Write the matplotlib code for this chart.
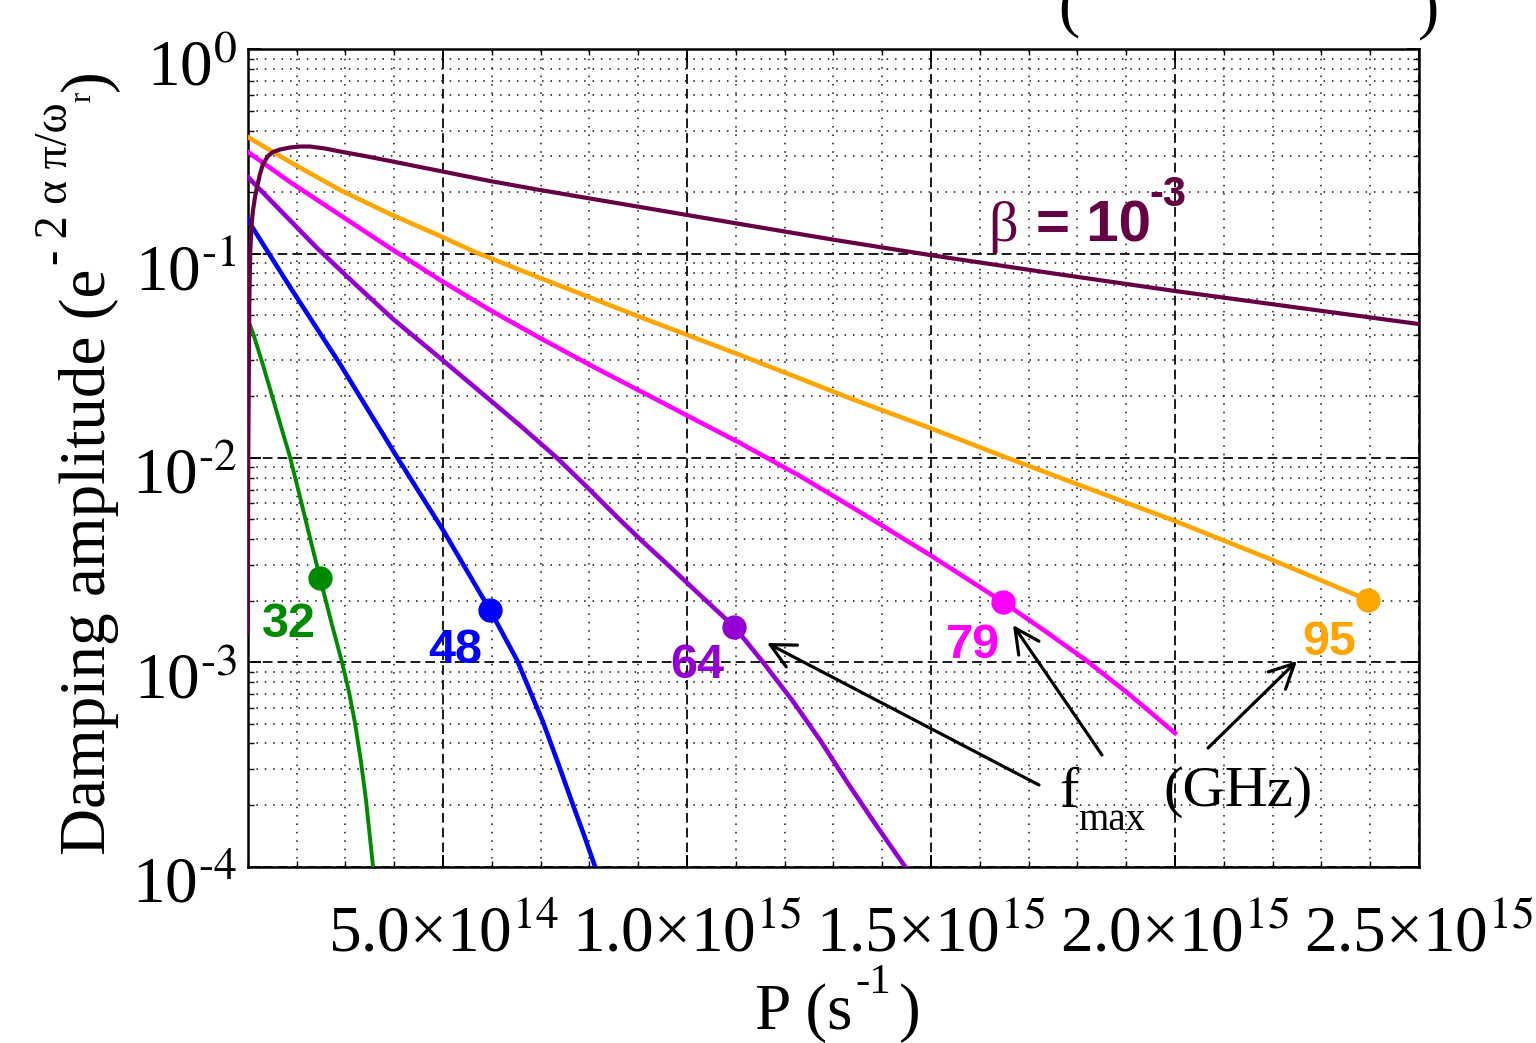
import matplotlib
matplotlib.use("Agg")
import matplotlib.pyplot as plt
import matplotlib.transforms as mtransforms
from matplotlib.patches import FancyArrowPatch
from matplotlib.ticker import FixedLocator, FixedFormatter, MultipleLocator, LogLocator, NullFormatter

# ---------------- data ----------------
P_beta = [1.00e14, 1.01e14, 1.031e14, 1.051e14, 1.076e14, 1.107e14, 1.148e14, 1.189e14, 1.25e14,
          1.311e14, 1.414e14, 1.516e14, 1.66e14, 1.865e14, 2.07e14, 2.275e14, 2.582e14, 2.889e14,
          3.402e14, 3.914e14, 4.939e14, 5.963e14, 6.988e14, 9.037e14, 1.1086e15, 1.3033e15,
          1.498e15, 1.7439e15, 2.0e15, 2.2562e15, 2.5e15]
A_beta = [1.39e-3, 1.093e-2, 5.93e-2, 0.1041, 0.138, 0.1634, 0.1892, 0.2118, 0.2452,
          0.2745, 0.3003, 0.3143, 0.3232, 0.3306, 0.3343, 0.3343, 0.3269, 0.3161,
          0.3003, 0.2840, 0.2537, 0.2266, 0.2048, 0.1691, 0.1396, 0.1166,
          0.0984, 0.0804, 0.0656, 0.0542, 0.0452]

P_95 = [1.0e14, 1.865e14, 2.889e14, 3.914e14, 4.939e14, 5.656e14, 6.988e14, 9.037e14, 1.1086e15,
        1.3381e15, 1.498e15, 1.6517e15, 1.8258e15, 2.0e15, 2.1947e15, 2.3955e15]
A_95 = [0.3722, 0.2808, 0.2048, 0.1562, 0.1220, 0.1018, 0.0760, 0.04894, 0.03190,
        0.01942, 0.01401, 0.0101, 7.043e-3, 4.911e-3, 3.2e-3, 2.015e-3]

P_79 = [1.0e14, 1.865e14, 2.889e14, 3.914e14, 4.939e14, 5.963e14, 6.988e14, 8.012e14, 9.037e14,
        1.0062e15, 1.1086e15, 1.2316e15, 1.3545e15, 1.498e15, 1.6476e15, 1.7336e15, 1.8197e15,
        1.9078e15, 2.0e15]
A_79 = [0.3143, 0.2241, 0.1545, 0.1065, 0.07426, 0.05295, 0.03863, 0.02849, 0.02126,
        0.01585, 0.01183, 8.153e-3, 5.434e-3, 3.347e-3, 1.971e-3, 1.421e-3, 1.014e-3,
        6.91e-4, 4.50e-4]

P_64 = [1.0e14, 1.66e14, 2.418e14, 3.197e14, 3.975e14, 4.939e14, 5.963e14, 6.639e14, 7.316e14,
        7.951e14, 8.566e14, 9.078e14, 9.59e14, 1.0267e15, 1.0973e15, 1.1537e15, 1.2152e15,
        1.2726e15, 1.3279e15, 1.3873e15, 1.4467e15]
A_64 = [0.2371, 0.1634, 0.1065, 0.07101, 0.04786, 0.03083, 0.01920, 0.01401, 0.0101,
        7.2e-3, 5.136e-3, 3.918e-3, 3.025e-3, 2.133e-3, 1.487e-3, 1.014e-3, 6.53e-4,
        4.16e-4, 2.592e-4, 1.596e-4, 1.0e-4]

P_48 = [1.0e14, 1.865e14, 2.889e14, 4.057e14, 5.0e14, 5.963e14, 6.516e14, 7.049e14, 7.357e14,
        7.664e14, 7.889e14, 8.115e14]
A_48 = [0.1460, 0.06862, 0.02881, 0.0101, 4.437e-3, 1.80e-3, 1.025e-3, 5.097e-4, 3.21e-4,
        2.0e-4, 1.426e-4, 1.0e-4]

P_32 = [1.0e14, 1.107e14, 1.311e14, 1.516e14, 1.701e14, 1.865e14, 2.07e14, 2.275e14, 2.48e14,
        2.705e14, 2.93e14, 3.074e14, 3.197e14, 3.32e14, 3.422e14, 3.566e14]
A_32 = [0.04732, 0.04086, 0.02849, 0.01942, 0.01369, 0.0101, 6.435e-3, 4.055e-3, 2.583e-3,
        1.591e-3, 1.0e-3, 7.145e-4, 5.04e-4, 3.247e-4, 2.116e-4, 1.0e-4]

fmax_labels = ["32", "48", "64", "79", "95"]
fmax_P = [2.48e14, 5.963e14, 1.0973e15, 1.6476e15, 2.3955e15]
fmax_A = [2.583e-3, 1.80e-3, 1.487e-3, 1.971e-3, 2.015e-3]

x_ticks = [5e14, 1e15, 1.5e15, 2e15, 2.5e15]
x_tick_labels = [r"5.0\u00d7$\mathregular{10}^{14}$", r"1.0\u00d7$\mathregular{10}^{15}$",
                 r"1.5\u00d7$\mathregular{10}^{15}$", r"2.0\u00d7$\mathregular{10}^{15}$",
                 r"2.5\u00d7$\mathregular{10}^{15}$"]
x_tick_labels = [s.replace(r"\u00d7", "\u00d7") for s in x_tick_labels]
y_ticks = [1e-4, 1e-3, 1e-2, 1e-1, 1e0]
y_tick_labels = [r"$\mathregular{10}^{\text{-}4}$", r"$\mathregular{10}^{\text{-}3}$",
                 r"$\mathregular{10}^{\text{-}2}$", r"$\mathregular{10}^{\text{-}1}$",
                 r"$\mathregular{10}^{0}$"]

# ---------------- styles ----------------
C_GREEN = "#008a00"
C_BLUE = "#0000ff"
C_VIOLET = "#9400d3"
C_MAGENTA = "#ff00ff"
C_ORANGE = "#ffa500"
C_DARK = "#660044"
fmax_colors = [C_GREEN, C_BLUE, C_VIOLET, C_MAGENTA, C_ORANGE]
# label offsets (pixels) relative to the f_max marker: (dx, dy of baseline)
label_offsets = [(-31, -59), (-35, -53), (-37, -51), (-30, -56), (-39, -55)]

plt.rcParams["font.family"] = ["Liberation Serif", "DejaVu Serif"]
plt.rcParams["mathtext.fontset"] = "stix"

W, H = 1536, 1043
fig = plt.figure(figsize=(W / 100, H / 100), dpi=100)
fig.patch.set_facecolor("white")


def fp(x, y):
    """reference pixel (from top-left) -> figure fraction"""
    return (x / W, 1 - y / H)


ax_l, ax_r, ax_t, ax_b = 247.8, 1419.0, 49.3, 866.5
ax = fig.add_axes([ax_l / W, 1 - ax_b / H, (ax_r - ax_l) / W, (ax_b - ax_t) / H])
ax.set_yscale("log")
ax.set_xlim(1e14, 2.5e15)
ax.set_ylim(1e-4, 1e0)

# grid
ax.set_axisbelow(True)
ax.grid(which="major", color="#1a1a1a", linestyle=(0, (5, 2.6)), linewidth=1.4)
ax.grid(which="minor", color="#111111", linestyle=(0, (1, 4.5)), linewidth=1.1)

# curves
lw = 3.3
ax.plot(P_32, A_32, color=C_GREEN, lw=2.8, zorder=3)
ax.plot(P_48, A_48, color=C_BLUE, lw=lw, zorder=3)
ax.plot(P_64, A_64, color=C_VIOLET, lw=lw, zorder=3)
ax.plot(P_79, A_79, color=C_MAGENTA, lw=lw, zorder=3)
ax.plot(P_95, A_95, color=C_ORANGE, lw=lw, zorder=3)
ax.plot(P_beta, A_beta, color=C_DARK, lw=3.0, zorder=4)

# f_max markers and labels
for lab, p, a, c, off in zip(fmax_labels, fmax_P, fmax_A, fmax_colors, label_offsets):
    ax.plot([p], [a], "o", ms=16.5, color=c, zorder=5)
    ax.annotate(lab, (p, a), xytext=off, textcoords="offset pixels",
                ha="center", va="baseline", fontsize=35, fontweight="bold",
                family="Liberation Sans", color=c, zorder=6)

# ticks
ax.xaxis.set_major_locator(FixedLocator(x_ticks))
ax.xaxis.set_major_formatter(FixedFormatter(x_tick_labels))
ax.xaxis.set_minor_locator(MultipleLocator(1e14))
ax.yaxis.set_major_locator(FixedLocator(y_ticks))
ax.yaxis.set_major_formatter(FixedFormatter(y_tick_labels))
ax.yaxis.set_minor_locator(LogLocator(base=10, subs=[2, 3, 4, 5, 6, 7, 8, 9], numticks=20))
ax.yaxis.set_minor_formatter(NullFormatter())
ax.tick_params(which="both", direction="in", top=True, right=True, colors="black")
ax.tick_params(which="major", length=9, width=1.4, labelsize=47)
ax.tick_params(which="minor", length=4.5, width=1.0)
ax.tick_params(axis="x", which="major", pad=61.5)
ax.tick_params(axis="y", which="major", pad=8)
for s in ax.spines.values():
    s.set_linewidth(1.8)

# put tick-label baselines where the reference has them
for t in ax.xaxis.get_major_ticks():
    t.label1.set_verticalalignment("baseline")
for t in ax.yaxis.get_major_ticks():
    t.label1.set_verticalalignment("baseline")
    t.label1.set_transform(mtransforms.offset_copy(t.label1.get_transform(), fig=fig,
                                                   x=0, y=-36, units="dots"))

rot = dict(rotation=90, rotation_mode="anchor", ha="left", va="baseline")
hz = dict(ha="left", va="baseline")

# ---- y axis label (rotated), built from pieces so the exponent is large ----
yl_main = fig.text(*fp(105, 855), "Damping amplitude (e", fontsize=47, **rot)
yl_sup = ax.annotate("- 2 \u03b1 \u03c0/\u03c9", xy=(67, 1), xycoords=("figure pixels", yl_main),
                     xytext=(0, 4), textcoords="offset pixels", fontsize=33,
                     annotation_clip=False, **rot)
yl_sub = ax.annotate("r", xy=(90, 1), xycoords=("figure pixels", yl_sup),
                     xytext=(0, 0), textcoords="offset pixels", fontsize=22,
                     annotation_clip=False, **rot)
yl_end = ax.annotate(")", xy=(105, 1), xycoords=("figure pixels", yl_sub),
                     xytext=(0, 1), textcoords="offset pixels", fontsize=47,
                     annotation_clip=False, **rot)

# ---- x axis label, built from pieces ----
xl_main = fig.text(*fp(755, 1029), "P (s", fontsize=47, **hz)
xl_sup = ax.annotate("-1", xy=(1, H - 993), xycoords=(xl_main, "figure pixels"),
                     xytext=(3, 0), textcoords="offset pixels", fontsize=31,
                     annotation_clip=False, **hz)
xl_end = ax.annotate(")", xy=(1, H - 1029), xycoords=(xl_sup, "figure pixels"),
                     xytext=(8, 0), textcoords="offset pixels", fontsize=47,
                     annotation_clip=False, **hz)

# beta annotation
fig.text(*fp(988, 241), "\u03b2", fontsize=42, family="Liberation Serif", color=C_DARK, **hz)
fig.text(*fp(1036, 242), "= 10", fontsize=42, family="Liberation Sans", fontweight="bold",
         color=C_DARK, **hz)
fig.text(*fp(1149, 206), "-3", fontsize=30, family="Liberation Sans", fontweight="bold",
         color=C_DARK, **hz)

# f_max (GHz) annotation
fig.text(*fp(1059, 807), "f", fontsize=42, **hz)
fig.text(*fp(1078, 830), "max", fontsize=28, **hz)
fig.text(*fp(1163, 806), "(GHz)", fontsize=42, **hz)

arrow_kw = dict(arrowstyle="->", color="black", lw=2.3, mutation_scale=44,
                shrinkA=0, shrinkB=0)
for tip, tail in [((767, 643), (1039, 785)), ((1013, 625), (1102, 755)),
                  ((1297, 661), (1208, 748))]:
    fig.add_artist(FancyArrowPatch(fp(*tail), fp(*tip), transform=fig.transFigure, **arrow_kw))

# cut-off parentheses at the top edge
fig.text(*fp(1058, 24), "(", fontsize=46, **hz)
fig.text(*fp(1418, 26), ")", fontsize=46, **hz)

fig.savefig("out.png", dpi=100)
